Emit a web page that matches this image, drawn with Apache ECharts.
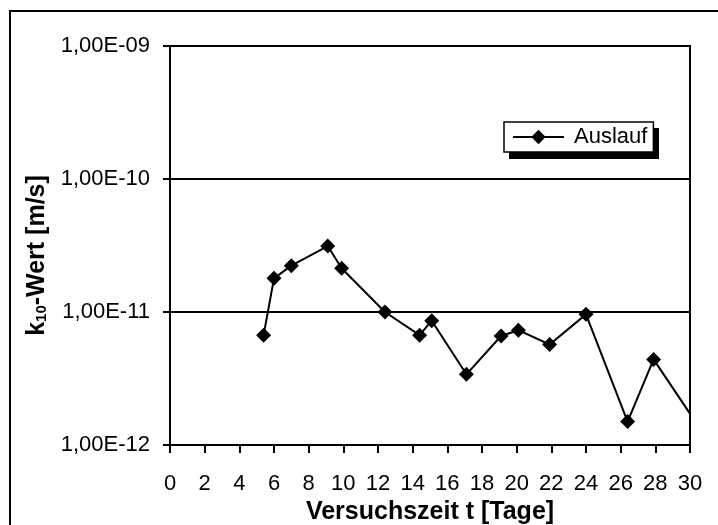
<!DOCTYPE html>
<html>
<head>
	<meta charset="utf-8">
	<script type="text/javascript" src="https://cdn.jsdelivr.net/npm/echarts@6/dist/echarts.min.js"></script>
</head>
<body style="margin:0;background:#fff;">
	<div id="main" style="width:718px;height:525px;position:absolute;"></div>

	<script type="text/javascript">
		// Versuchszeit in Tagen und k10-Werte (Auslauf)
		var days = [5.4, 6.0, 7.0, 9.1, 9.9, 12.4, 14.4, 15.1, 17.1, 19.1, 20.1, 21.9, 24.0, 26.4, 27.9, 31];
		var k10 = [6.7e-12, 1.79e-11, 2.23e-11, 3.13e-11, 2.13e-11, 1.0e-11, 6.7e-12, 8.6e-12, 3.4e-12, 6.6e-12, 7.3e-12, 5.7e-12, 9.6e-12, 1.5e-12, 4.4e-12, 1.1e-12];
		var seriesName = 'Auslauf';
		var xTitle = 'Versuchszeit t [Tage]';

		var font = '"Liberation Sans", Arial, sans-serif';
		var pts = [];
		for (var i = 0; i < days.length; i++) {
			pts.push([days[i], k10[i]]);
		}

		var chart = echarts.init(document.getElementById('main'));
		chart.setOption({
			animation: false,
			backgroundColor: '#fff',
			textStyle: { fontFamily: font, color: '#000' },
			graphic: [{
				// aeusserer Rahmen
				type: 'rect',
				shape: { x: 10, y: 11, width: 1000, height: 1000 },
				style: { fill: 'none', stroke: '#000', lineWidth: 2 },
				silent: true
			}, {
				// Schatten hinter der Legende
				type: 'rect',
				shape: { x: 509, y: 128, width: 150, height: 31 },
				style: { fill: '#000' },
				silent: true
			}],
			grid: {
				left: 170, right: 28, top: 46, bottom: 80,
				outerBoundsMode: 'none', containLabel: false,
				show: true, borderColor: '#000', borderWidth: 2, backgroundColor: 'transparent'
			},
			legend: {
				left: 504, top: 122,
				data: [seriesName],
				itemWidth: 51, itemHeight: 18,
				padding: [4, 6, 4, 8],
				backgroundColor: '#fff',
				borderColor: '#000', borderWidth: 1.5, borderRadius: 0,
				textStyle: { fontSize: 22, fontFamily: font, color: '#000', padding: [0, 0, 0, 5] }
			},
			xAxis: {
				type: 'value', min: 0, max: 30, interval: 2,
				name: xTitle, nameLocation: 'middle', nameGap: 52,
				nameTextStyle: { fontSize: 25, fontWeight: 'bold', fontFamily: font, color: '#000' },
				axisLine: { lineStyle: { color: '#000', width: 2 } },
				axisTick: { show: true, length: 8, lineStyle: { color: '#000', width: 2 } },
				axisLabel: { fontSize: 22, margin: 28, color: '#000', fontFamily: font },
				splitLine: { show: false }
			},
			yAxis: {
				type: 'log', logBase: 10, min: 1e-12, max: 1e-9,
				name: '{b|k}{s|10}{b|-Wert [m/s]}', nameLocation: 'middle', nameRotate: 90, nameGap: 117,
				nameTextStyle: {
					padding: [0, 20, 0, 0],
					rich: {
						b: { fontSize: 25, fontWeight: 'bold', fontFamily: font, color: '#000', lineHeight: 26 },
						s: { fontSize: 15, fontWeight: 'bold', fontFamily: font, color: '#000', lineHeight: 12, verticalAlign: 'bottom' }
					}
				},
				axisLine: { show: true, lineStyle: { color: '#000', width: 2 } },
				axisTick: { show: true, length: 7, lineStyle: { color: '#000', width: 2 } },
				axisLabel: {
					fontSize: 22, margin: 20, color: '#000', fontFamily: font,
					formatter: function (v) {
						var n = -Math.round(Math.log(v) / Math.LN10);
						return '1,00E-' + (n < 10 ? '0' : '') + n;
					}
				},
				splitLine: { show: true, lineStyle: { color: '#000', width: 2 } }
			},
			series: [{
				name: seriesName,
				type: 'line',
				data: pts,
				clip: true,
				symbol: 'diamond',
				symbolSize: 15,
				itemStyle: { color: '#000' },
				lineStyle: { color: '#000', width: 2 }
			}]
		});
	</script>
</body>
</html>
